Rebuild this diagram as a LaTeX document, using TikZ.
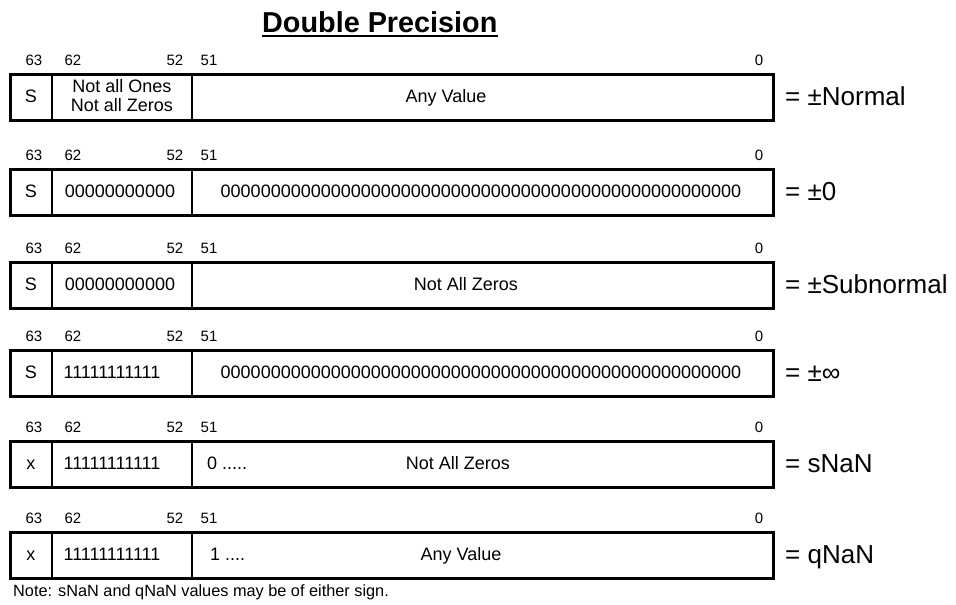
\documentclass[tikz,border=0pt]{standalone}
\usepackage{fontspec}
\setmainfont{Liberation Sans}
\begin{document}
\begin{tikzpicture}[x=1pt,y=-1pt,
  hdr/.style={font=\fontsize{15}{15}\selectfont, inner sep=0pt, anchor=base},
  cell/.style={font=\fontsize{18}{18}\selectfont, inner sep=0pt, anchor=base},
  cellw/.style={cell, anchor=base west},
  lbl/.style={font=\fontsize{26}{26}\selectfont, inner sep=0pt, anchor=base west},
  fbox/.style={draw, line width=2.8pt, minimum width=763pt, minimum height=46pt, anchor=north west, inner sep=0pt},
  sep/.style={line width=2pt}]
\useasboundingbox (0,0) rectangle (956,605);
% title
\node[font=\fontsize{28.8}{28.8}\selectfont\bfseries, inner sep=0pt, anchor=base west] (title) at (262,32) {Double Precision};
\draw[line width=2pt] ([yshift=-3.5pt]title.base west) -- ([yshift=-3.5pt]title.base east);
% rows
\foreach \r/\t in {1/73,2/168,3/261,4/349,5/440,6/531}{
  \node[fbox] (box\r) at (9,\t) {};
  \draw[sep] (52,\t) -- (52,\t+46);
  \draw[sep] (192,\t) -- (192,\t+46);
  \node[hdr] (h63-\r) at (34,\t-7.6) {63};
  \node[hdr] (h62-\r) at (73,\t-7.6) {62};
  \node[hdr] (h52-\r) at (175,\t-7.6) {52};
  \node[hdr] (h51-\r) at (209,\t-7.6) {51};
  \node[hdr] (h0-\r) at (759,\t-7.6) {0};
}
% row 1
\node[cell] (s1) at (31,102.5) {S};
\node[cell] (e1a) at (122,92) {Not all Ones};
\node[cell] (e1b) at (122,111) {Not all Zeros};
\node[cell] (m1) at (446,102.5) {Any Value};
\node[lbl] (l1) at (785,105) {= ±Normal};
% row 2
\node[cell] (s2) at (31,197.5) {S};
\node[cell] (e2) at (120,197.5) {00000000000};
\node[cell] (m2) at (481,197.5) {0000000000000000000000000000000000000000000000000000};
\node[lbl] (l2) at (785,200) {= ±0};
% row 3
\node[cell] (s3) at (31,290.5) {S};
\node[cell] (e3) at (120,290.5) {00000000000};
\node[cell] (m3) at (466,290.5) {Not All Zeros};
\node[lbl] (l3) at (785,293) {= ±Subnormal};
% row 4
\node[cell] (s4) at (31,378.5) {S};
\node[cell] (e4) at (112,378.5) {11111111111};
\node[cell] (m4) at (481,378.5) {0000000000000000000000000000000000000000000000000000};
\node[lbl] (l4) at (785,381) {= ±∞};
% row 5
\node[cell] (s5) at (31,469.5) {x};
\node[cell] (e5) at (112,469.5) {11111111111};
\node[cellw] (d5) at (207,469.5) {0 .....};
\node[cell] (m5) at (458,469.5) {Not All Zeros};
\node[lbl] (l5) at (785,472) {= sNaN};
% row 6
\node[cell] (s6) at (31,560.5) {x};
\node[cell] (e6) at (112,560.5) {11111111111};
\node[cellw] (d6) at (210,560.5) {1 ....};
\node[cell] (m6) at (461,560.5) {Any Value};
\node[lbl] (l6) at (785,563) {= qNaN};
% note
\node[font=\fontsize{16.3}{16.3}\selectfont, inner sep=0pt, anchor=base west] (note) at (13,596) {Note: sNaN and qNaN values may be of either sign.};
\end{tikzpicture}
\end{document}
